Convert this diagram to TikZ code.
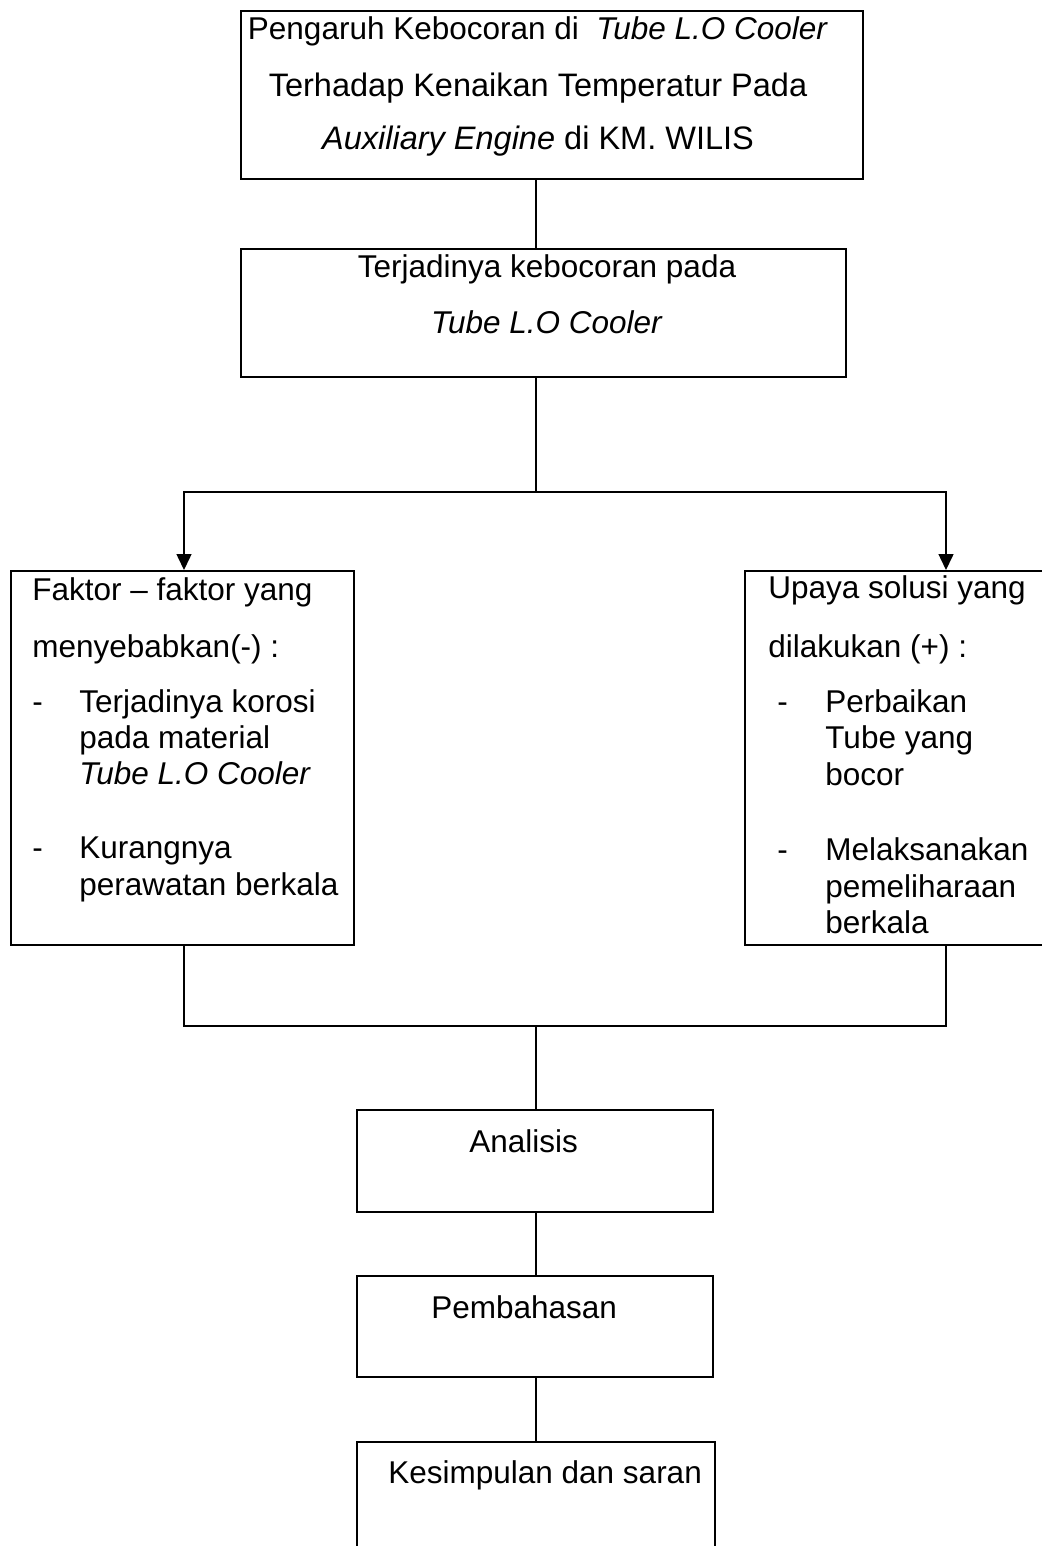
\documentclass[tikz,border=0pt]{standalone}
\usepackage{fontspec}
\setmainfont{Liberation Sans}
\usetikzlibrary{arrows.meta}
\tikzset{
  box/.style={draw,line width=1pt,anchor=north west,inner sep=0pt},
  txt/.style={anchor=base west,inner sep=0pt,font=\fontsize{15.75}{18}\selectfont},
  ctxt/.style={txt,anchor=base},
  big/.style={font=\fontsize{16.25}{18}\selectfont},
  link/.style={line width=0.75pt},
  tip/.style={-{Triangle[width=7.5pt,length=8pt]}}
}
\begin{document}
\begin{tikzpicture}[x=0.5pt,y=-0.5pt]
\useasboundingbox (0,0) rectangle (1042,1546);
\node[box,minimum width=311pt,minimum height=84pt] (judul) at (240,10) {};
\node[box,minimum width=302.5pt,minimum height=64pt] (bocor) at (240,248) {};
\node[box,minimum width=171.5pt,minimum height=187pt] (faktor) at (10,570) {};
\node[box,minimum width=155pt,minimum height=187pt] (upaya) at (744,570) {};
\node[box,minimum width=178pt,minimum height=51pt] (analisis) at (356,1109) {};
\node[box,minimum width=178pt,minimum height=50.5pt] (bahas) at (356,1275) {};
\node[box,minimum width=179pt,minimum height=60pt] (simpul) at (356,1441) {};
\coordinate (spine) at (536,0);
\coordinate (kiri) at (184,0);
\coordinate (kanan) at (946,0);
\coordinate (cabang) at (536,492);
\coordinate (gabung) at (536,1026);
\node[ctxt] (j1) at (538,40) {Pengaruh Kebocoran di \ \textit{Tube L.O Cooler}};
\node[ctxt,big] (j2) at (538,97) {Terhadap Kenaikan Temperatur Pada};
\node[ctxt,big] (j3) at (538,150) {\textit{Auxiliary Engine} di KM. WILIS};
\node[ctxt] (b1) at (547,278) {Terjadinya kebocoran pada};
\node[ctxt] (b2) at (547,333) {\textit{Tube L.O Cooler}};
\node[txt] (f1) at (32,600) {Faktor -- faktor yang};
\node[txt] (f2) at (32,657) {menyebabkan(-) :};
\node[txt] (fd1) at (32,712) {-};
\node[txt] (fd2) at (32,858) {-};
\foreach \y/\t [count=\i] in {712/Terjadinya korosi, 748/pada material,
    784/\textit{Tube L.O Cooler}, 858/Kurangnya, 895/perawatan berkala}
  \node[txt] (fb\i) at (79,\y) {\t};
\node[txt] (u1) at (768,598) {Upaya solusi yang};
\node[txt] (u2) at (768,657) {dilakukan (+) :};
\node[txt] (ud1) at (777,712) {-};
\node[txt] (ud2) at (777,860) {-};
\foreach \y/\t [count=\i] in {712/Perbaikan, 748/Tube yang, 785/bocor,
    860/Melaksanakan, 897/pemeliharaan, 933/berkala}
  \node[txt] (ub\i) at (825,\y) {\t};
\node[txt] (a1) at (469,1152) {Analisis};
\node[txt] (p1) at (431,1318) {Pembahasan};
\node[txt] (k1) at (388,1483) {Kesimpulan dan saran};
\draw[link] (judul.south -| spine) -- (bocor.north -| spine);
\draw[link] (bocor.south -| spine) -- (cabang);
\draw[link,tip] (cabang) -| (faktor.north -| kiri);
\draw[link,tip] (cabang) -| (upaya.north -| kanan);
\draw[link] (faktor.south -| kiri) |- (gabung);
\draw[link] (upaya.south -| kanan) |- (gabung);
\draw[link] (gabung) -- (analisis.north -| spine);
\draw[link] (analisis.south -| spine) -- (bahas.north -| spine);
\draw[link] (bahas.south -| spine) -- (simpul.north -| spine);
\end{tikzpicture}
\end{document}
